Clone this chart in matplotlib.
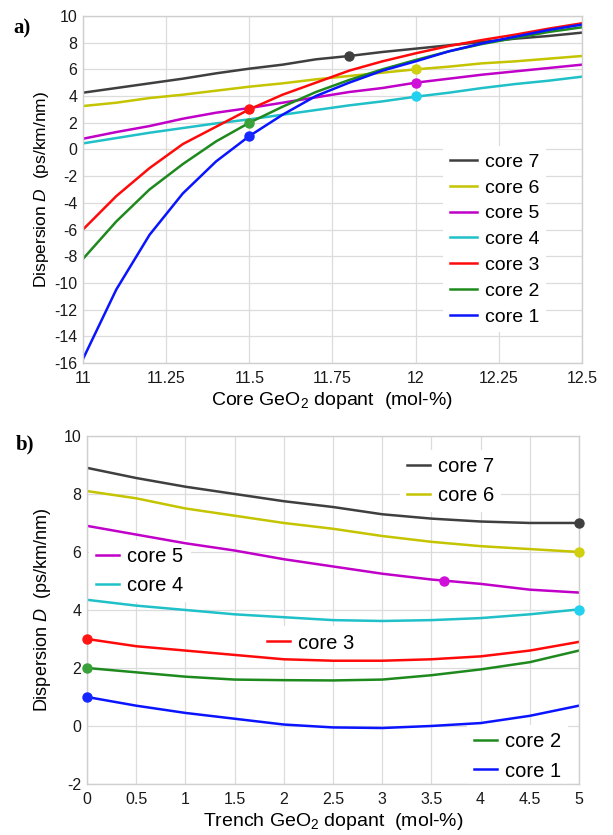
import matplotlib
matplotlib.use('Agg')
import matplotlib.pyplot as plt

plt.rcParams['font.family'] = ['Liberation Sans', 'DejaVu Sans']
plt.rcParams['mathtext.fontset'] = 'custom'
plt.rcParams['mathtext.rm'] = 'Liberation Sans'
plt.rcParams['mathtext.it'] = 'Liberation Sans:italic'
plt.rcParams['axes.unicode_minus'] = False

# ---- panel a data: core GeO2 dopant sweep ----
xa = [11.0, 11.1, 11.2, 11.3, 11.4, 11.5, 11.6, 11.7, 11.8, 11.9, 12.0, 12.1, 12.2, 12.3, 12.4, 12.5]
a_core7 = [4.25, 4.6, 4.95, 5.3, 5.7, 6.05, 6.35, 6.75, 7.0, 7.3, 7.55, 7.8, 8.05, 8.3, 8.5, 8.75]
a_core6 = [3.25, 3.5, 3.85, 4.1, 4.4, 4.7, 4.95, 5.25, 5.5, 5.75, 6.0, 6.2, 6.45, 6.6, 6.8, 7.0]
a_core5 = [0.8, 1.3, 1.75, 2.3, 2.75, 3.1, 3.5, 3.9, 4.3, 4.6, 5.0, 5.3, 5.6, 5.85, 6.1, 6.35]
a_core4 = [0.45, 0.85, 1.25, 1.6, 1.95, 2.25, 2.6, 2.95, 3.3, 3.6, 3.95, 4.25, 4.6, 4.9, 5.15, 5.45]
a_core3 = [-6.0, -3.5, -1.4, 0.4, 1.7, 3.0, 4.1, 5.0, 5.9, 6.6, 7.2, 7.75, 8.2, 8.6, 9.05, 9.45]
a_core2 = [-8.2, -5.4, -3.0, -1.1, 0.6, 2.0, 3.2, 4.3, 5.2, 6.0, 6.7, 7.35, 7.9, 8.35, 8.8, 9.15]
a_core1 = [-15.7, -10.5, -6.4, -3.3, -0.9, 1.0, 2.6, 4.0, 5.0, 5.9, 6.6, 7.35, 7.95, 8.45, 8.95, 9.35]
a_mark_x = [11.8, 12.0, 12.0, 12.0, 11.5, 11.5, 11.5]
a_mark_y = [7.0, 6.0, 5.0, 4.0, 3.0, 2.0, 1.0]

# ---- panel b data: trench GeO2 dopant sweep ----
xb = [0.0, 0.5, 1.0, 1.5, 2.0, 2.5, 3.0, 3.5, 4.0, 4.5, 5.0]
b_core7 = [8.9, 8.55, 8.25, 8.0, 7.75, 7.55, 7.3, 7.15, 7.05, 7.0, 7.0]
b_core6 = [8.1, 7.85, 7.5, 7.25, 7.0, 6.8, 6.55, 6.35, 6.2, 6.1, 6.0]
b_core5 = [6.9, 6.6, 6.3, 6.05, 5.75, 5.5, 5.25, 5.05, 4.9, 4.7, 4.6]
b_core4 = [4.35, 4.15, 4.0, 3.85, 3.75, 3.65, 3.62, 3.65, 3.72, 3.85, 4.02]
b_core3 = [3.0, 2.75, 2.6, 2.45, 2.3, 2.25, 2.25, 2.3, 2.4, 2.6, 2.9]
b_core2 = [2.0, 1.85, 1.7, 1.6, 1.58, 1.57, 1.6, 1.75, 1.95, 2.2, 2.6]
b_core1 = [1.0, 0.7, 0.45, 0.25, 0.05, -0.05, -0.07, 0.0, 0.1, 0.35, 0.7]
b_mark_x = [5.0, 5.0, 3.63, 5.0, 0.0, 0.0, 0.0]
b_mark_y = [7.0, 6.0, 5.0, 4.0, 3.0, 2.0, 1.0]

labels = ['core 7', 'core 6', 'core 5', 'core 4', 'core 3', 'core 2', 'core 1']
colors = ['#3f3f3f', '#c4c400', '#c000c8', '#1fc0c8', '#ff0a0a', '#1e8a1e', '#0a14ff']
mark_colors = ['#3f3f3f', '#d0d010', '#d010d8', '#22d0f0', '#ff1414', '#3aa03a', '#1428ff']

xa_ticks = [11, 11.25, 11.5, 11.75, 12, 12.25, 12.5]
xa_ticklabels = ['11', '11.25', '11.5', '11.75', '12', '12.25', '12.5']
ya_ticks = [10, 8, 6, 4, 2, 0, -2, -4, -6, -8, -10, -12, -14, -16]
xb_ticks = [0, 0.5, 1, 1.5, 2, 2.5, 3, 3.5, 4, 4.5, 5]
xb_ticklabels = ['0', '0.5', '1', '1.5', '2', '2.5', '3', '3.5', '4', '4.5', '5']
yb_ticks = [10, 8, 6, 4, 2, 0, -2]

fig = plt.figure(figsize=(6.13, 8.35), dpi=100)
ax1 = fig.add_axes([0.1354, 0.5653, 0.814, 0.4156])
ax2 = fig.add_axes([0.1419, 0.0611, 0.8026, 0.4168])


def style(ax):
    ax.grid(True, color='#dcdcdc', linewidth=0.9)
    ax.set_axisbelow(True)
    for s in ax.spines.values():
        s.set_color('#cfcfcf')
        s.set_linewidth(1.0)
    ax.tick_params(length=0, labelsize=11.5, colors='#1a1a1a')
    ax.tick_params(axis='x', pad=6)
    ax.tick_params(axis='y', pad=4)


# panel a
series_a = [a_core7, a_core6, a_core5, a_core4, a_core3, a_core2, a_core1]
handles = []
for ys, c, lab in zip(series_a, colors, labels):
    h, = ax1.plot(xa, ys, color=c, lw=1.8, label=lab)
    handles.append(h)
for mx, my, mc in zip(a_mark_x, a_mark_y, mark_colors):
    ax1.plot(mx, my, 'o', color=mc, ms=6.5, zorder=5)
ax1.set_xlim(11, 12.5)
ax1.set_ylim(-16, 10)
ax1.set_xticks(xa_ticks)
ax1.set_xticklabels(xa_ticklabels)
ax1.set_yticks(ya_ticks)
style(ax1)
ax1.set_xlabel('Core GeO$_2$ dopant  (mol-%)', fontsize=14, labelpad=3)
ax1.set_ylabel('Dispersion $D$  (ps/km/nm)', fontsize=12.5, labelpad=2)
ax1.legend(handles=handles, loc='center left', bbox_to_anchor=(0.721, 0.356),
           fontsize=14, frameon=True, facecolor='white', edgecolor='none',
           framealpha=1, fancybox=False, handlelength=1.4, handletextpad=0.4,
           labelspacing=0.42, borderpad=0.35, borderaxespad=0)

# panel b
series_b = [b_core7, b_core6, b_core5, b_core4, b_core3, b_core2, b_core1]
hb = []
for ys, c, lab in zip(series_b, colors, labels):
    h, = ax2.plot(xb, ys, color=c, lw=1.8, label=lab)
    hb.append(h)
for mx, my, mc in zip(b_mark_x, b_mark_y, mark_colors):
    ax2.plot(mx, my, 'o', color=mc, ms=6.5, zorder=5, clip_on=False)
ax2.set_xlim(0, 5)
ax2.set_ylim(-2, 10)
ax2.set_xticks(xb_ticks)
ax2.set_xticklabels(xb_ticklabels)
ax2.set_yticks(yb_ticks)
style(ax2)
ax2.set_xlabel('Trench GeO$_2$ dopant  (mol-%)', fontsize=14, labelpad=3)
ax2.set_ylabel('Dispersion $D$  (ps/km/nm)', fontsize=13, labelpad=8)

# legend entries scattered over panel b, drawn under the curves
groups = [([0, 1], (0.636, 0.871)), ([2, 3], (0.004, 0.612)),
          ([4], (0.352, 0.405)), ([5, 6], (0.772, 0.079))]
for idx, anchor in groups:
    lg = ax2.legend(handles=[hb[i] for i in idx], loc='center left', bbox_to_anchor=anchor,
                    fontsize=14.5, frameon=True, facecolor='white', edgecolor='none',
                    framealpha=1, fancybox=False, handlelength=1.15, handletextpad=0.4,
                    labelspacing=0.5, borderpad=0.35, borderaxespad=0)
    lg.set_zorder(1.5)
    ax2.add_artist(lg)

fig.text(0.022, 0.978, 'a)', fontsize=15, fontweight='bold', family='Liberation Serif', va='top')
fig.text(0.025, 0.480, 'b)', fontsize=15, fontweight='bold', family='Liberation Serif', va='top')

fig.savefig('out.png', dpi=100)
